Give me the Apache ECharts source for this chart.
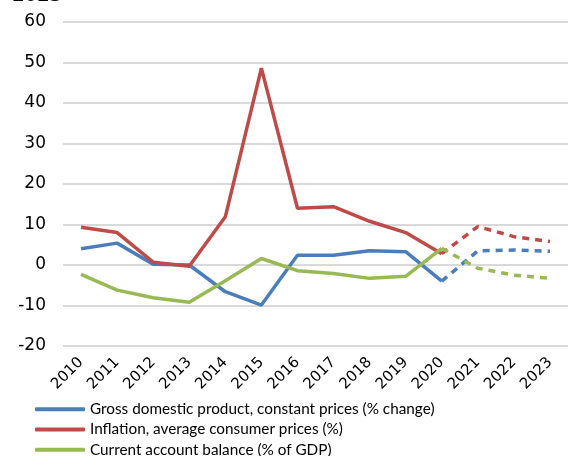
<!DOCTYPE html>
<html>
<head>
<meta charset="utf-8">
<script src="https://cdn.jsdelivr.net/npm/echarts@6/dist/echarts.min.js"></script>
<style>
  html, body { margin: 0; padding: 0; background: #fff; }
  #chart { width: 568px; height: 456px; }
</style>
</head>
<body>
<div id="chart"></div>
<script>
// Years on the category axis
const years = ['2010','2011','2012','2013','2014','2015','2016','2017','2018','2019','2020','2021','2022','2023'];

// Actual values (2010-2020); projections start from 2020
const gdpGrowth   = [4.0, 5.4, 0.2, 0.0, -6.6, -9.9, 2.4, 2.4, 3.5, 3.3, -4.0, 3.5, 3.7, 3.4];
const inflation   = [9.3, 8.0, 0.7, -0.3, 11.9, 48.6, 14.0, 14.4, 10.8, 8.0, 2.8, 9.5, 7.0, 5.8];
const currentAcct = [-2.3, -6.2, -8.1, -9.2, -3.9, 1.6, -1.4, -2.1, -3.3, -2.8, 4.1, -0.8, -2.5, -3.3];

const seriesNames = [
  'Gross domestic product, constant prices (% change)',
  'Inflation, average consumer prices (%)',
  'Current account balance (% of GDP)'
];
const colors = ['#4a7ebb', '#be4b48', '#98b954'];

const lastActual = years.indexOf('2020');

function actualPart(arr) {
  return arr.map((v, i) => (i <= lastActual ? v : null));
}
function projectedPart(arr) {
  return arr.map((v, i) => (i >= lastActual ? v : null));
}

const datasets = [gdpGrowth, inflation, currentAcct];
const series = [];
datasets.forEach((arr, k) => {
  series.push({
    name: seriesNames[k],
    type: 'line',
    data: actualPart(arr),
    symbol: 'none',
    lineStyle: { color: colors[k], width: 3.5 },
    itemStyle: { color: colors[k] },
    z: 3
  });
});
datasets.forEach((arr, k) => {
  series.push({
    name: seriesNames[k] + ' proj',
    type: 'line',
    data: projectedPart(arr),
    symbol: 'none',
    lineStyle: { color: colors[k], width: 3.5, type: [7, 6] },
    itemStyle: { color: colors[k] },
    z: 2
  });
});

const axisFont = '"DejaVu Sans", sans-serif';
const textFont = 'Lato, "DejaVu Sans", sans-serif';

const chart = echarts.init(document.getElementById('chart'), null, { renderer: 'canvas' });
chart.setOption({
  animation: false,
  backgroundColor: '#ffffff',
  // Heading line sits above the top edge; only its lower part shows
  graphic: [{
    type: 'text',
    x: 12,
    y: 5,
    style: {
      text: '2023',
      font: 'bold 18px "DejaVu Sans", sans-serif',
      fill: '#000',
      textVerticalAlign: 'bottom',
      verticalAlign: 'bottom'
    }
  }],
  grid: { left: 63, right: -11, top: 22, height: 324 },
  xAxis: {
    type: 'category',
    data: years,
    boundaryGap: true,
    axisLine: { show: false },
    axisTick: { show: false },
    axisLabel: {
      rotate: 45,
      margin: 14,
      interval: 0,
      color: '#000',
      fontFamily: axisFont,
      fontSize: 15
    }
  },
  yAxis: {
    type: 'value',
    min: -20,
    max: 60,
    interval: 10,
    axisLine: { show: false },
    axisTick: { show: false },
    splitLine: { lineStyle: { color: '#d9d9d9', width: 2 } },
    axisLabel: {
      margin: 17,
      color: '#000',
      fontFamily: axisFont,
      fontSize: 17
    }
  },
  legend: {
    data: seriesNames,
    orient: 'vertical',
    left: 35,
    top: 401,
    height: 120,
    padding: 0,
    itemWidth: 50,
    itemHeight: 4,
    itemGap: 4,
    icon: 'roundRect',
    textStyle: { fontFamily: textFont, fontSize: 15.3, color: '#000', lineHeight: 16.3 }
  },
  series: series
});
</script>
</body>
</html>
